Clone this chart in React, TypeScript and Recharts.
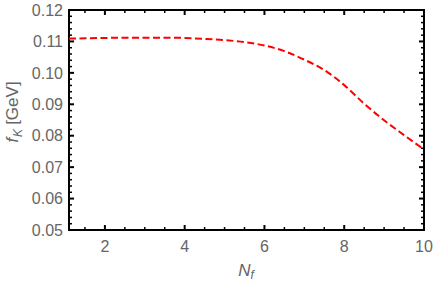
import React from 'react';
import { LineChart, Line, XAxis, YAxis } from 'recharts';

// N_f values along the curve and the read-off f_K in GeV
const nf = [1.1, 1.5, 2, 2.5, 3, 3.5, 4, 4.5, 5, 5.5, 6, 6.5, 7, 7.5, 8, 8.5, 9, 9.5, 10];
const fK = [
  0.1109, 0.111, 0.1111, 0.1112, 0.1112, 0.1112, 0.1111, 0.1108, 0.1104, 0.1098, 0.1087,
  0.1069, 0.1042, 0.1009, 0.0961, 0.0902, 0.0849, 0.0802, 0.0756,
];

const xTicks = [2, 4, 6, 8, 10];
const yTicks = [0.05, 0.06, 0.07, 0.08, 0.09, 0.1, 0.11, 0.12];
const xDomain: [number, number] = [1.1, 10];
const yDomain: [number, number] = [0.05, 0.12];

const data = nf.map((x, i) => ({ nf: x, fK: fK[i] }));

// minor ticks every 0.5 on x and 0.002 on y
const xMinor: number[] = [];
for (let k = 3; k <= 20; k++) xMinor.push(k / 2);
const yMinor: number[] = [];
for (let k = 25; k <= 60; k++) yMinor.push(k / 500);

const isMajorX = (t: number) => xTicks.some((m) => Math.abs(m - t) < 1e-9);
const isMajorY = (t: number) => yTicks.some((m) => Math.abs(m - t) < 1e-9);

const font = '"Liberation Sans", Arial, sans-serif';
const grey = '#666';

// plot frame in pixels (follows from margins and axis sizes below)
const W = 436;
const H = 284;
const M = { top: 10, right: 12, bottom: 0, left: 0 };
const Y_AXIS_W = 69;
const X_AXIS_H = 54;
const plotL = M.left + Y_AXIS_W;
const plotR = W - M.right;
const plotT = M.top;
const plotB = H - M.bottom - X_AXIS_H;

const XTick = (props: any) => {
  const { x, payload } = props;
  const v = payload.value as number;
  const major = isMajorX(v);
  const len = major ? 5 : 3;
  const sw = major ? 2 : 1.5;
  return (
    <g>
      <line x1={x} x2={x} y1={plotB} y2={plotB - len} stroke="#000" strokeWidth={sw} />
      <line x1={x} x2={x} y1={plotT} y2={plotT + len} stroke="#000" strokeWidth={sw} />
      {major && (
        <text x={x} y={plotB + 22} textAnchor="middle" fill={grey} fontSize={16} fontFamily={font}>
          {v}
        </text>
      )}
    </g>
  );
};

const YTick = (props: any) => {
  const { y, payload } = props;
  const v = payload.value as number;
  const major = isMajorY(v);
  const len = major ? 5 : 3;
  const sw = major ? 2 : 1.5;
  return (
    <g>
      <line x1={plotL} x2={plotL + len} y1={y} y2={y} stroke="#000" strokeWidth={sw} />
      <line x1={plotR} x2={plotR - len} y1={y} y2={y} stroke="#000" strokeWidth={sw} />
      {major && (
        <text x={plotL - 6} y={y + 5.7} textAnchor="end" fill={grey} fontSize={16} fontFamily={font}>
          {v.toFixed(2)}
        </text>
      )}
    </g>
  );
};

export default function App() {
  return (
    <div style={{ position: 'absolute', left: 0, top: 0, background: '#fff' }}>
      <LineChart width={W} height={H} data={data} margin={M} style={{ fontFamily: font }}>
        <XAxis
          dataKey="nf"
          type="number"
          domain={xDomain}
          ticks={xMinor}
          interval={0}
          allowDataOverflow
          height={X_AXIS_H}
          tickLine={false}
          axisLine={false}
          tick={<XTick />}
        />
        <YAxis
          type="number"
          domain={yDomain}
          ticks={yMinor}
          interval={0}
          allowDataOverflow
          width={Y_AXIS_W}
          tickLine={false}
          axisLine={false}
          tick={<YTick />}
        />
        <rect x={plotL} y={plotT} width={plotR - plotL} height={plotB - plotT} fill="none" stroke="#000" strokeWidth={2} />
        <Line
          type="monotone"
          dataKey="fK"
          stroke="#ff0000"
          strokeWidth={2}
          strokeDasharray="7 3.5"
          dot={false}
          isAnimationActive={false}
        />
        <text x={246} y={276} textAnchor="middle" fill={grey} fontFamily={font} fontSize={17} fontStyle="italic">
          N<tspan fontSize={12} dy={3}>f</tspan>
        </text>
        <text transform="translate(18,112) rotate(-90)" textAnchor="middle" fill={grey} fontFamily={font} fontSize={17}>
          <tspan fontStyle="italic">f</tspan>
          <tspan fontStyle="italic" fontSize={12} dx={1} dy={4}>K</tspan>
          <tspan dx={4} dy={-4}>[GeV]</tspan>
        </text>
      </LineChart>
    </div>
  );
}
